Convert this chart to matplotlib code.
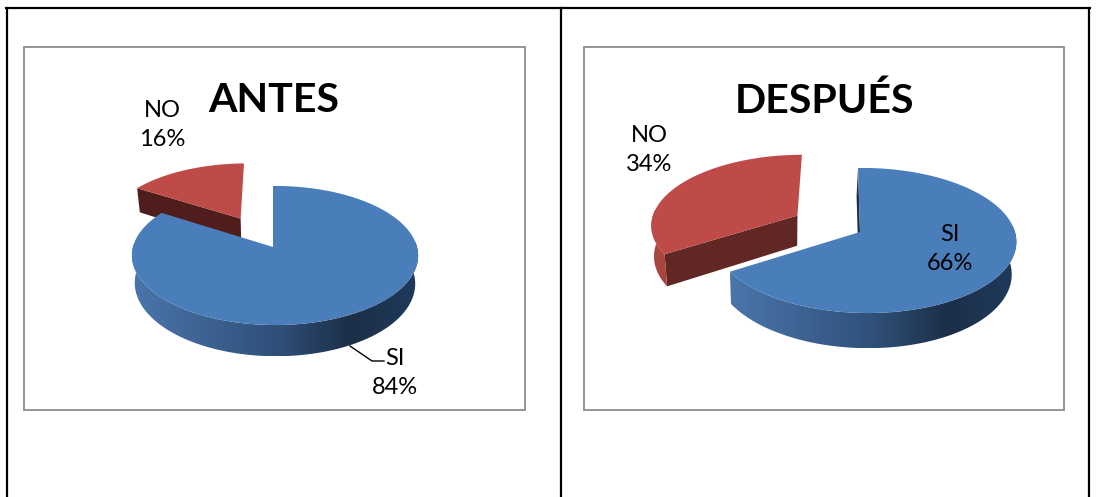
import numpy as np
import matplotlib
matplotlib.use('Agg')
import matplotlib.pyplot as plt
from matplotlib.colors import LinearSegmentedColormap
from matplotlib.patches import Polygon, Rectangle

# Valeurs des deux camemberts
categorias = ['SI', 'NO']
antes = [84, 16]
despues = [66, 34]

plt.rcParams['font.family'] = ['Lato', 'DejaVu Sans']

AZUL = '#4a7ebb'
ROJO = '#be4b48'
ROJO_PARED = '#a9453f'
MARCO = '#8c8c8c'

# Degrade horizontal de la paroi bleue
grad_azul = LinearSegmentedColormap.from_list(
    'azul', [(0, '#4a76ab'), (0.5, '#30507a'), (0.76, '#1c2f48'), (1, '#1f3a5c')])


def proyectar(g, u, v, abajo=False):
    # Perspective simple : disque (u, v) vers pixels
    w = 1 + g['k'] * v + g['m'] * u
    x = g['cx'] + (g['rx'] * u + g['s'] * v) / w
    y = g['cy'] - g['ry'] * v / w
    if abajo:
        x = g['cx'] + (x - g['cx']) * 0.98 + g['dx']
        y = y + g['d'] / w
    return x, y


def tajada(ax, g, ini, fin, sep, color, cara, pared, z):
    # Une part : angles en degres depuis midi, sens horaire
    t = np.radians(np.linspace(ini, fin, 160))
    bis = np.radians((ini + fin) / 2)
    u0, v0 = sep * np.sin(bis), sep * np.cos(bis)
    u, v = u0 + np.sin(t), v0 + np.cos(t)

    xa, ya = proyectar(g, u, v)
    xb, yb = proyectar(g, u, v, abajo=True)
    xc, yc = proyectar(g, u0, v0)
    xd, yd = proyectar(g, u0, v0, abajo=True)

    # Face de coupe visible, celle du debut de la part
    ax.add_patch(Polygon([(xc, yc), (xa[0], ya[0]), (xb[0], yb[0]), (xd, yd)],
                         fc=cara, lw=0, zorder=z))

    # Paroi exterieure, seulement le cote tourne vers l'avant
    avant = np.cos(t) < 0.1
    if avant.any():
        borde = np.column_stack([np.r_[xa[avant], xb[avant][::-1]],
                                 np.r_[ya[avant], yb[avant][::-1]]])
        if pared is None:
            ax.add_patch(Polygon(borde, fc=ROJO_PARED, lw=0, zorder=z + 0.1))
        else:
            im = ax.imshow(np.linspace(0, 1, 256).reshape(1, -1), cmap=pared, aspect='auto',
                           extent=(borde[:, 0].min(), borde[:, 0].max(),
                                   borde[:, 1].max(), borde[:, 1].min()), zorder=z + 0.1)
            im.set_clip_path(Polygon(borde, transform=ax.transData))

    # Dessus
    ax.add_patch(Polygon(np.column_stack([np.r_[xc, xa], np.r_[yc, ya]]),
                         fc=color, lw=0, zorder=z + 0.2))


def torta(ax, g, g_no, valores, sep, cara_no, cara_si):
    total = sum(valores)
    fin_si = 360 * valores[0] / total
    tajada(ax, g_no, fin_si, 360, sep, ROJO, cara_no, None, 2)
    tajada(ax, g, 0, fin_si, 0, AZUL, cara_si, grad_azul, 3)


fig = plt.figure(figsize=(10.98, 4.97), dpi=100)
ax = fig.add_axes([0, 0, 1, 1])

geo_antes = dict(cx=273, cy=247, rx=142, ry=68.5, k=0.122, m=-0.014, s=0, d=27.4, dx=0)
geo_despues = dict(cx=860, cy=232, rx=150, ry=71.5, k=0.117, m=-0.032, s=-2.2, d=31, dx=-1.5)
geo_despues_no = dict(geo_despues, rx=148.5, m=0)

torta(ax, geo_antes, geo_antes, antes, 0.5, '#4f1e1c', AZUL)
torta(ax, geo_despues, geo_despues_no, despues, 0.49, '#602724', '#1d3049')

# Cadres des graphiques
ax.add_patch(Rectangle((24, 47), 501, 363, fc='none', ec=MARCO, lw=1.3, zorder=1))
ax.add_patch(Rectangle((584, 47), 480, 363, fc='none', ec=MARCO, lw=1.3, zorder=1))

# Lignes du tableau
ax.plot([6, 1090], [8, 8], color='black', lw=1.6, zorder=5)
for xl in (7, 561, 1089):
    ax.plot([xl, xl], [8, 497], color='black', lw=1.6, zorder=5)

# Titres
ax.text(274, 101, 'ANTES', fontsize=29.6, fontweight='bold', ha='center', va='center', zorder=6)
ax.text(824, 101, 'DESPUÉS', fontsize=29.6, fontweight='bold', ha='center', va='center', zorder=6)


# Etiquettes
def etiqueta(x, y, cat, val):
    ax.text(x, y, f'{cat}\n{val}%', fontsize=17, ha='center', va='center',
            linespacing=1.5, zorder=6)


etiqueta(395, 373, categorias[0], antes[0])
etiqueta(162, 125, categorias[1], antes[1])
etiqueta(950, 249, categorias[0], despues[0])
etiqueta(649, 150, categorias[1], despues[1])

# Trait de rappel du SI
ax.plot([350, 372, 384], [346, 361, 361], color='black', lw=1, zorder=6)

ax.set_xlim(0, 1098)
ax.set_ylim(497, 0)
ax.set_aspect('auto')
ax.axis('off')
plt.savefig('out.png', dpi=100)
